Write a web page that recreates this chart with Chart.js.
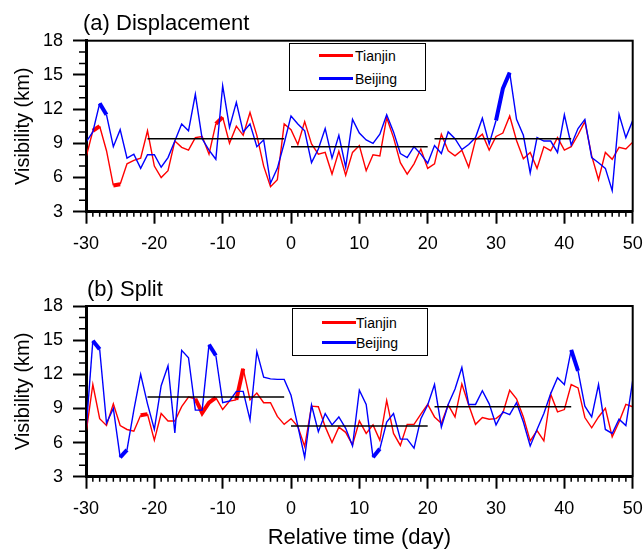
<!DOCTYPE html>
<html>
<head>
<meta charset="utf-8">
<script src="https://cdn.jsdelivr.net/npm/chart.js@4.4.1/dist/chart.umd.min.js"></script>
<style>
  html, body { margin: 0; padding: 0; background: #fff; }
  #wrap { position: relative; width: 643px; height: 552px; font-family: "Liberation Sans", Arial, sans-serif; color: #000; }
  canvas { position: absolute; left: 0; }
  .ptitle { position: absolute; font-size: 22px; line-height: 22px; white-space: nowrap; }
  .legend { position: absolute; box-sizing: border-box; border: 1.5px solid #000; background: #fff; }
  .legend .ln { position: absolute; left: 29px; width: 34px; height: 3px; }
  .legend .tx { position: absolute; font-size: 14px; line-height: 14px; }
</style>
</head>
<body>
<div id="wrap">
  <canvas id="chartA" width="643" height="256" style="top:0"></canvas>
  <canvas id="chartB" width="643" height="296" style="top:256px"></canvas>

  <div class="ptitle" style="left:83px; top:12px">(a) Displacement</div>
  <div class="ptitle" style="left:87px; top:278px">(b) Split</div>

  <div class="legend" style="left:289px; top:43px; width:137px; height:48px">
    <div class="ln" style="top:10px; background:#ff0000"></div>
    <div class="tx" style="left:65px; top:5px">Tianjin</div>
    <div class="ln" style="top:33px; background:#0000ff"></div>
    <div class="tx" style="left:65px; top:28px">Beijing</div>
  </div>
  <div class="legend" style="left:292px; top:308px; width:136px; height:48px">
    <div class="ln" style="top:12px; background:#ff0000"></div>
    <div class="tx" style="left:63px; top:7px">Tianjin</div>
    <div class="ln" style="top:32px; background:#0000ff"></div>
    <div class="tx" style="left:63px; top:27px">Beijing</div>
  </div>
</div>

<script>
// dias relativos (-30 .. 50)
const days = [];
for (let d = -30; d <= 50; d++) days.push(d);

const xTicks = [-30, -20, -10, 0, 10, 20, 30, 40, 50];
const yTicks = [3, 6, 9, 12, 15, 18];

// (a) Displacement
const dispTianjin = [
  7.75, 10.1, 10.5, 8.35, 5.3, 5.4, 7.2, 7.5, 7.7, 10.1,
  7.0, 6.0, 6.6, 9.2, 8.65, 8.4, 9.5, 9.6, 8.05, 10.7,
  11.3, 9.0, 10.5, 9.7, 11.7, 9.7, 7.0, 5.2, 5.8, 10.7,
  10.2, 8.9, 10.9, 8.95, 8.05, 8.2, 6.3, 8.3, 6.2, 8.2,
  8.8, 6.6, 8.0, 7.9, 11.25, 9.5, 7.3, 6.3, 7.2, 8.5,
  6.8, 7.2, 9.8, 8.35, 7.9, 8.4, 6.9, 9.3, 9.8, 8.4,
  9.6, 9.9, 11.4, 9.25, 7.65, 8.2, 6.8, 8.7, 8.35, 9.5,
  8.4, 8.7, 9.75, 10.9, 7.9, 5.8, 8.2, 7.6, 8.65, 8.5,
  9.1
];
const dispBeijing = [
  9.1, 10.0, 12.5, 11.5, 8.7, 10.2, 7.7, 8.05, 6.8, 8.0,
  8.0, 6.9, 7.75, 9.2, 10.7, 10.1, 13.3, 9.4, 8.4, 7.6,
  14.05, 10.4, 12.6, 10.0, 10.7, 8.7, 9.3, 5.5, 6.8, 9.0,
  11.4, 10.7, 10.1, 7.3, 8.5, 10.3, 7.7, 9.7, 6.9, 11.1,
  9.9, 9.3, 9.0, 9.8, 11.5, 10.0, 8.1, 7.75, 8.7, 8.05,
  7.25, 8.8, 8.1, 10.0, 9.4, 8.45, 8.9, 9.5, 11.2, 8.95,
  11.0, 13.8, 15.2, 11.1, 9.7, 6.4, 9.5, 9.2, 9.2, 8.2,
  11.5, 8.85, 10.3, 11.1, 7.75, 7.3, 6.8, 4.85, 11.55, 9.5,
  11.0
];
// periodos com media (inicio, fim, valor)
const dispMeans = [[-21, -1, 9.4], [0, 20, 8.7], [21, 41, 9.4]];
// trechos em destaque (linha grossa)
const dispBoldTianjin = [[-29, -28], [-26, -25], [-11, -10]];
const dispBoldBeijing = [[-28, -27], [30, 32]];

// (b) Split
const splitTianjin = [
  6.8, 11.1, 8.1, 7.5, 9.4, 7.5, 7.15, 7.0, 8.4, 8.5,
  6.2, 8.55, 7.9, 7.9, 9.15, 10.0, 9.85, 8.6, 9.5, 9.95,
  8.9, 9.65, 9.75, 12.5, 9.75, 10.35, 9.5, 9.5, 8.3, 7.6,
  8.1, 7.4, 5.65, 9.2, 9.15, 7.4, 6.0, 7.35, 6.9, 5.8,
  7.9, 6.8, 7.55, 6.2, 9.7, 6.8, 5.75, 7.6, 7.6, 8.5,
  9.35, 8.25, 7.7, 9.3, 8.25, 11.15, 9.3, 7.6, 8.2, 8.05,
  8.1, 8.6, 10.6, 9.85, 8.25, 6.15, 7.05, 6.15, 10.25, 8.7,
  8.9, 11.1, 10.8, 8.2, 7.3, 8.25, 9.0, 6.5, 7.8, 9.35,
  9.15
];
const splitBeijing = [
  7.0, 14.95, 14.2, 7.7, 9.0, 4.7, 5.35, 8.85, 12.0, 9.4,
  7.15, 11.0, 12.75, 6.85, 14.1, 13.45, 8.85, 8.85, 14.6, 13.65,
  9.5, 9.65, 10.5, 10.5, 8.0, 14.0, 11.75, 11.6, 11.55, 11.55,
  10.15, 7.45, 4.7, 9.3, 6.95, 8.55, 7.55, 8.25, 7.25, 5.7,
  10.6, 9.35, 4.7, 5.45, 7.8, 8.55, 6.3, 6.3, 5.5, 8.1,
  9.3, 11.1, 7.35, 9.35, 10.7, 12.6, 9.35, 9.35, 10.55, 9.4,
  7.55, 8.7, 8.45, 9.5, 7.8, 5.7, 7.15, 8.55, 10.3, 11.7,
  11.1, 14.15, 12.3, 9.2, 8.25, 11.1, 7.15, 6.8, 8.05, 7.5,
  11.45
];
const splitMeans = [[-21, -1, 10.0], [0, 20, 7.45], [21, 41, 9.15]];
const splitBoldTianjin = [[-22, -21], [-14, -11], [-8, -7]];
const splitBoldBeijing = [[-29, -28], [-25, -24], [-12, -11], [12, 13], [41, 42]];

const fonte = "'Liberation Sans', Arial, sans-serif";

function largura(trechos) {
  return ctx => trechos.some(([s, e]) => ctx.p0.parsed.x >= s && ctx.p1.parsed.x <= e) ? 4 : 1.4;
}

function serie(valores, cor, trechos) {
  return {
    data: days.map((d, i) => ({ x: d, y: valores[i] })),
    borderColor: cor,
    borderWidth: 1.4,
    pointRadius: 0,
    fill: false,
    tension: 0,
    segment: { borderWidth: largura(trechos) }
  };
}

function medias(lista) {
  return lista.map(([s, e, v]) => ({
    data: [{ x: s, y: v }, { x: e, y: v }],
    borderColor: '#000',
    borderWidth: 1.4,
    pointRadius: 0,
    fill: false
  }));
}

// moldura + ticks menores
const moldura = {
  id: 'moldura',
  afterDraw(chart) {
    const { ctx, chartArea: a, scales: { x, y } } = chart;
    ctx.save();
    ctx.strokeStyle = '#000';
    ctx.lineWidth = 2;
    ctx.strokeRect(a.left, a.top, a.right - a.left, a.bottom - a.top);
    ctx.lineWidth = 1.5;
    ctx.beginPath();
    days.forEach(d => {
      if (d % 10 !== 0) {
        const px = x.getPixelForValue(d);
        ctx.moveTo(px, a.bottom);
        ctx.lineTo(px, a.bottom + 5);
      }
    });
    for (let v = yTicks[0]; v <= yTicks[yTicks.length - 1]; v++) {
      if (v % 3 !== 0) {
        const py = y.getPixelForValue(v);
        ctx.moveTo(a.left, py);
        ctx.lineTo(a.left - 7, py);
      }
    }
    ctx.stroke();
    ctx.restore();
  }
};

function opcoes(padTop, xHeight, comTitulo) {
  return {
    responsive: false,
    animation: false,
    devicePixelRatio: 1,
    layout: { padding: { top: padTop, right: 0, left: 0, bottom: 0 } },
    plugins: { legend: { display: false }, tooltip: { enabled: false } },
    scales: {
      x: {
        type: 'linear',
        min: -30,
        max: 50,
        afterBuildTicks: s => { s.ticks = xTicks.map(v => ({ value: v })); },
        afterFit: s => { s.height = xHeight; s.paddingRight = 10.3; },
        grid: { drawOnChartArea: false, tickLength: 12, tickWidth: 2, tickColor: '#000' },
        border: { display: true, color: '#000', width: 3 },
        ticks: { color: '#000', font: { family: fonte, size: 18 }, padding: 10, maxRotation: 0, autoSkip: false },
        title: {
          display: comTitulo,
          text: 'Relative time (day)',
          color: '#000',
          font: { family: fonte, size: 22 },
          padding: { top: 0, bottom: 1 }
        }
      },
      y: {
        min: 3,
        max: 18,
        afterBuildTicks: s => { s.ticks = yTicks.map(v => ({ value: v })); },
        afterFit: s => { s.width = 86; },
        grid: { drawOnChartArea: false, tickLength: 13, tickWidth: 2, tickColor: '#000' },
        border: { display: true, color: '#000', width: 3 },
        ticks: { color: '#000', font: { family: fonte, size: 18 }, padding: 10 },
        title: {
          display: true,
          text: 'Visibility (km)',
          color: '#000',
          font: { family: fonte, size: 20 },
          padding: { top: 11, bottom: 0 }
        }
      }
    }
  };
}

new Chart(document.getElementById('chartA'), {
  type: 'line',
  data: {
    datasets: [
      ...medias(dispMeans),
      serie(dispBeijing, '#0000ff', dispBoldBeijing),
      serie(dispTianjin, '#ff0000', dispBoldTianjin)
    ]
  },
  options: opcoes(40.7, 44.3, false),
  plugins: [moldura]
});

new Chart(document.getElementById('chartB'), {
  type: 'line',
  data: {
    datasets: [
      ...medias(splitMeans),
      serie(splitBeijing, '#0000ff', splitBoldBeijing),
      serie(splitTianjin, '#ff0000', splitBoldTianjin)
    ]
  },
  options: opcoes(50, 75.3, true),
  plugins: [moldura]
});
</script>
</body>
</html>
